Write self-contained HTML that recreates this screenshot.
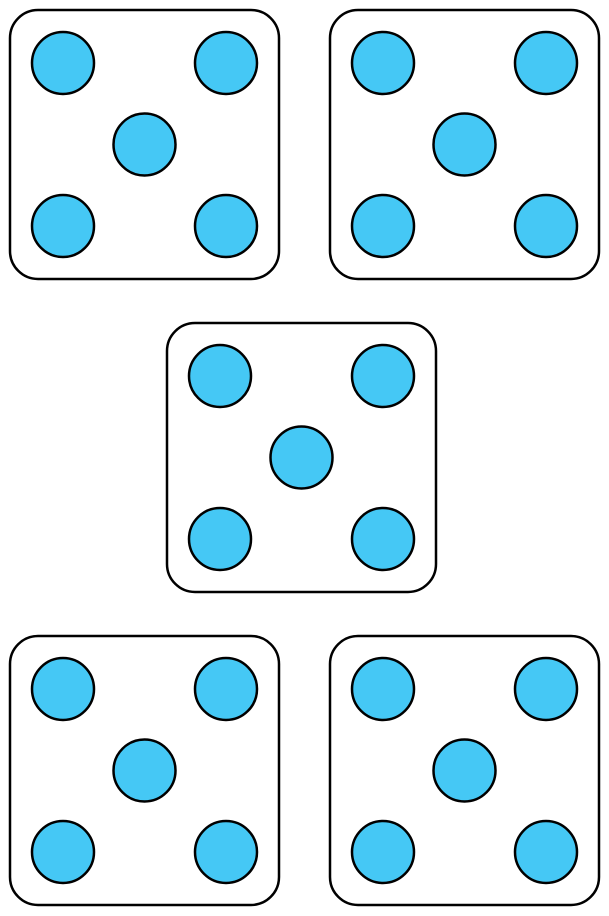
<!DOCTYPE html>
<html>
<head>
<meta charset="utf-8">
<style>
  html,body{margin:0;padding:0;background:#fff;}
  svg{display:block;}
</style>
</head>
<body>
<svg id="chart" width="609" height="916" viewBox="0 0 609 916" xmlns="http://www.w3.org/2000/svg"></svg>
<script>
// Each die's face value (number of pips)
const dieValues = [5, 5, 5, 5, 5];
// Die positions (top-left) in the layout
const dieLeft = [10, 330, 167, 10, 330];
const dieTop = [10, 10, 323, 636, 636];
// Pip layout for face values on a 3x3 grid (col,row in 0..2)
const pipLayouts = {
  1: [[1,1]],
  2: [[0,0],[2,2]],
  3: [[0,0],[1,1],[2,2]],
  4: [[0,0],[2,0],[0,2],[2,2]],
  5: [[0,0],[2,0],[1,1],[0,2],[2,2]],
  6: [[0,0],[2,0],[0,1],[2,1],[0,2],[2,2]]
};

const NS = "http://www.w3.org/2000/svg";
const svg = document.getElementById("chart");
const SIZE = 269, CORNER = 28, PIP_R = 31, OFF = 53, STEP = 81.5;

dieValues.forEach((v, i) => {
  const g = document.createElementNS(NS, "g");
  
  
  const r = document.createElementNS(NS, "rect");
  r.setAttribute("x", dieLeft[i]);
  r.setAttribute("y", dieTop[i]);
  r.setAttribute("width", SIZE);
  r.setAttribute("height", SIZE);
  r.setAttribute("rx", CORNER);
  r.setAttribute("fill", "#fff");
  r.setAttribute("stroke", "#000");
  r.setAttribute("stroke-width", "2.5");
  
  
  g.appendChild(r);
  (pipLayouts[v] || []).forEach(([c, rw]) => {
    const p = document.createElementNS(NS, "circle");
    p.setAttribute("cx", dieLeft[i] + OFF + c * STEP);
    p.setAttribute("cy", dieTop[i] + OFF + rw * STEP);
    p.setAttribute("r", PIP_R);
    p.setAttribute("fill", "#45C8F5");
    p.setAttribute("stroke", "#000");
    p.setAttribute("stroke-width", "2.5");
    
    
    g.appendChild(p);
  });
  svg.appendChild(g);
});
</script>
</body>
</html>
